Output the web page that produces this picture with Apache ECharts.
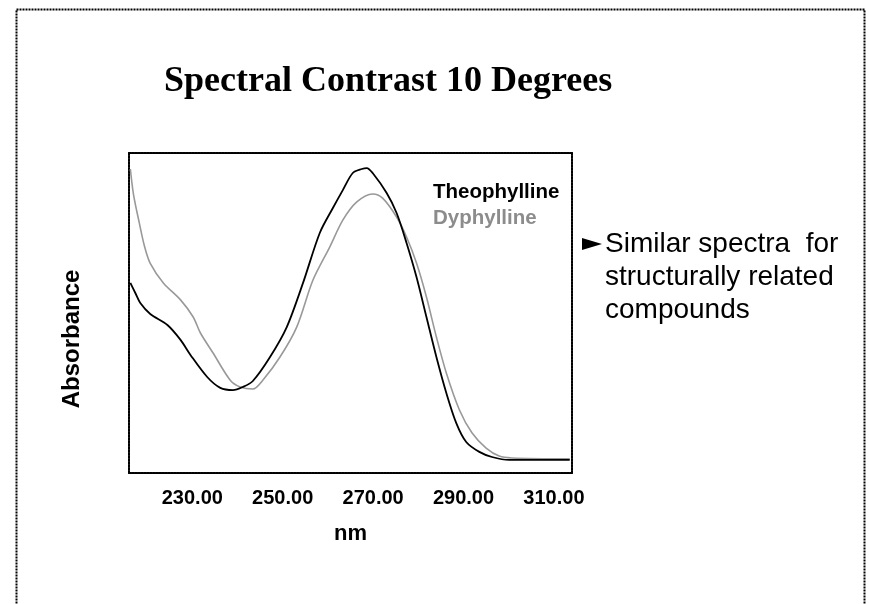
<!DOCTYPE html>
<html>
<head>
<meta charset="utf-8">
<title>Spectral Contrast 10 Degrees</title>
<script src="https://cdn.jsdelivr.net/npm/echarts@6/dist/echarts.min.js"></script>
<style>
  html, body { margin: 0; padding: 0; background: #fff; }
  #main { width: 869px; height: 604px; }
</style>
</head>
<body>
<div id="main"></div>
<script>
  // wavelength (nm) / absorbance
  var theoNm = [216.3, 217.4, 218.5, 220.7, 224.5, 227.4, 229.6, 233.3, 236.2, 239.0, 241.2, 243.4, 247.2, 250.9, 254.5, 258.2, 261.1, 263.3, 265.5, 267.5, 268.6, 269.9, 273.0, 275.2, 277.4, 279.6, 281.8, 284.0, 286.2, 288.4, 290.6, 293.5, 296.3, 300.1, 313.5];
  var theoAbs = [0.594, 0.5625, 0.531, 0.497, 0.4625, 0.416, 0.369, 0.30, 0.266, 0.259, 0.269, 0.2875, 0.3625, 0.456, 0.594, 0.75, 0.828, 0.884, 0.9375, 0.95, 0.953, 0.9375, 0.875, 0.8125, 0.719, 0.6125, 0.4875, 0.3625, 0.25, 0.156, 0.097, 0.066, 0.05, 0.041, 0.041];

  var dyphNm = [216.3, 217.0, 218.3, 219.4, 220.7, 223.6, 227.4, 230.2, 231.8, 234.6, 238.4, 240.6, 243.4, 245.6, 249.4, 253.1, 256.7, 260.4, 263.3, 266.4, 269.9, 272.1, 275.2, 277.4, 279.6, 281.8, 284.0, 286.2, 289.1, 291.9, 295.0, 297.9, 300.7, 313.5];
  var dyphAbs = [0.95, 0.87, 0.78, 0.71, 0.655, 0.594, 0.541, 0.4875, 0.4375, 0.375, 0.29, 0.269, 0.2625, 0.29, 0.3625, 0.456, 0.603, 0.706, 0.79, 0.847, 0.872, 0.859, 0.8, 0.7375, 0.656, 0.55, 0.425, 0.3125, 0.197, 0.125, 0.078, 0.053, 0.047, 0.044];

  var xTicks = [230, 250, 270, 290, 310];
  var seriesNames = ['Theophylline', 'Dyphylline'];
  var bulletLines = ['Similar spectra  for', 'structurally related', 'compounds'];

  var sans = 'Liberation Sans, Arial, sans-serif';
  var dash = [2, 1];
  var frame = { color: '#000', width: 2, type: dash };

  function pairs(xs, ys) {
    return xs.map(function (x, i) { return [x, ys[i]]; });
  }

  var chartDom = document.getElementById('main');
  var myChart = echarts.init(chartDom, null, { renderer: 'canvas' });
  var option;

  option = {
    animation: false,
    backgroundColor: '#fff',
    title: {
      text: 'Spectral Contrast 10 Degrees',
      left: 159,
      top: 59,
      textStyle: {
        fontFamily: 'Liberation Serif, Times New Roman, serif',
        fontWeight: 'bold',
        fontSize: 36,
        color: '#000'
      }
    },
    legend: {
      orient: 'vertical',
      left: 423,
      top: 177,
      icon: 'none',
      itemWidth: 0,
      itemGap: 5,
      selectedMode: false,
      textStyle: { fontFamily: sans, fontWeight: 'bold', fontSize: 20.5 },
      data: [
        { name: seriesNames[0], textStyle: { color: '#000' } },
        { name: seriesNames[1], textStyle: { color: '#8c8c8c' } }
      ]
    },
    grid: { left: 129, top: 153, width: 443, height: 320 },
    xAxis: [
      {
        type: 'value',
        min: 216,
        max: 314,
        name: 'nm',
        nameLocation: 'middle',
        nameGap: 50,
        nameTextStyle: { fontFamily: sans, fontWeight: 'bold', fontSize: 22, color: '#000' },
        axisLine: { onZero: false, lineStyle: frame },
        axisTick: { show: false },
        splitLine: { show: false },
        axisLabel: {
          customValues: xTicks,
          margin: 15,
          fontFamily: sans,
          fontWeight: 'bold',
          fontSize: 20,
          color: '#000',
          formatter: function (v) { return v.toFixed(2); }
        }
      },
      {
        type: 'value',
        position: 'top',
        min: 216,
        max: 314,
        axisLine: { show: true, onZero: false, lineStyle: frame },
        axisTick: { show: false },
        axisLabel: { show: false },
        splitLine: { show: false }
      }
    ],
    yAxis: [
      {
        type: 'value',
        min: 0,
        max: 1,
        name: 'Absorbance',
        nameLocation: 'middle',
        nameGap: 45,
        nameTextStyle: { fontFamily: sans, fontWeight: 'bold', fontSize: 24, color: '#000', padding: [0, 52, 0, 0] },
        axisLine: { show: true, onZero: false, lineStyle: frame },
        axisTick: { show: false },
        axisLabel: { show: false },
        splitLine: { show: false }
      },
      {
        type: 'value',
        position: 'right',
        min: 0,
        max: 1,
        axisLine: { show: true, onZero: false, lineStyle: frame },
        axisTick: { show: false },
        axisLabel: { show: false },
        splitLine: { show: false }
      }
    ],
    series: [
      {
        name: seriesNames[1],
        type: 'line',
        data: pairs(dyphNm, dyphAbs),
        smooth: 0.3,
        showSymbol: false,
        color: '#999',
        lineStyle: { color: '#999', width: 1.6 }
      },
      {
        name: seriesNames[0],
        type: 'line',
        data: pairs(theoNm, theoAbs),
        smooth: 0.3,
        showSymbol: false,
        color: '#000',
        lineStyle: { color: '#000', width: 1.8 }
      }
    ],
    graphic: [
      {
        type: 'rect',
        shape: { x: 16.5, y: 9.5, width: 848, height: 700 },
        style: { fill: null, stroke: '#000', lineWidth: 2, lineDash: dash }
      },
      {
        type: 'polygon',
        shape: { points: [[582, 238], [602, 244], [582, 250]] },
        style: { fill: '#000' }
      },
      {
        type: 'text',
        left: 605,
        top: 228,
        style: {
          text: bulletLines.join('\n'),
          font: '28px ' + sans,
          lineHeight: 33,
          fill: '#000'
        }
      }
    ]
  };

  option && myChart.setOption(option);
</script>
</body>
</html>
